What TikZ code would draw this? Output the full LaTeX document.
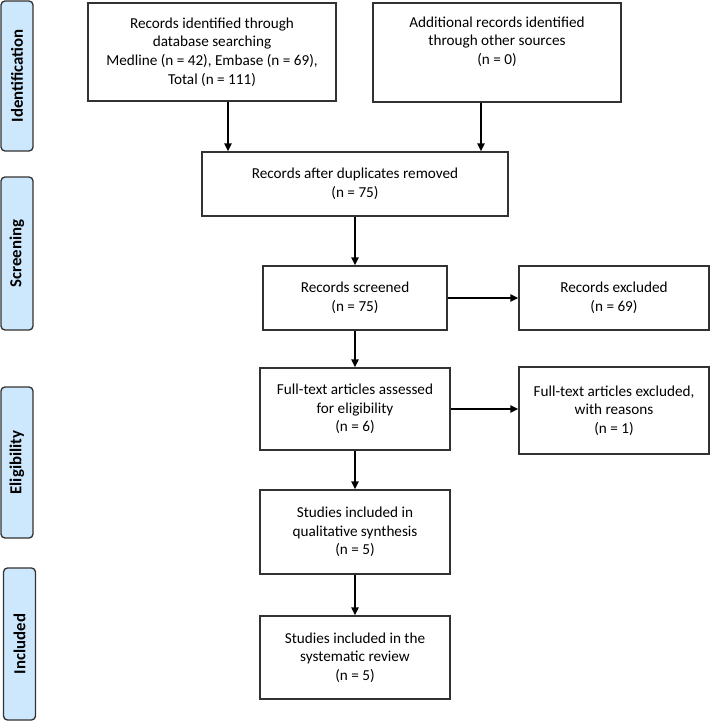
\documentclass[tikz,border=0pt]{standalone}
\usepackage{fontspec}
\setmainfont{Carlito}
\usetikzlibrary{arrows.meta}
\definecolor{phaseblue}{RGB}{205,232,252}
\definecolor{edgegray}{RGB}{50,50,50}
\begin{document}
\begin{tikzpicture}[x=0.75pt,y=-0.75pt,
  box/.style={draw=edgegray,line width=1pt,align=center,inner sep=0pt,
    font=\fontsize{11.4pt}{13.9pt}\selectfont},
  phase/.style={draw=edgegray,line width=1pt,fill=phaseblue,rounded corners=3pt,
    rotate=90,inner sep=0pt,minimum height=24pt,
    font=\fontsize{12.6pt}{14pt}\selectfont\bfseries},
  arr/.style={line width=1.2pt,-{Triangle[length=6pt,width=5.5pt]}}]
\useasboundingbox (0,0) rectangle (710,721);
% phase labels
\node[phase,minimum width=112.5pt] (pid) at (17,76) {Identification};
\node[phase,minimum width=114.75pt] (psc) at (17,253.5) {Screening};
\node[phase,minimum width=113.25pt] (pel) at (17,462.5) {Eligibility};
\node[phase,minimum width=114pt] (pin) at (19.5,644) {Included};
% boxes
\node[box,minimum width=186pt,minimum height=73.5pt] (A) at (212,52)
  {Records identified through\\database searching\\Medline (n = 42), Embase (n = 69),\\Total (n = 111)};
\node[box,minimum width=186pt,minimum height=74.25pt] (B) at (497,52.5)
  {Additional records identified\\through other sources\\(n = 0)\\\strut};
\node[box,minimum width=229.5pt,minimum height=48pt] (C) at (355,184)
  {Records after duplicates removed\\(n = 75)};
\node[box,minimum width=138pt,minimum height=48pt] (D) at (355,298)
  {Records screened\\(n = 75)};
\node[box,minimum width=142.5pt,minimum height=48pt] (E) at (614,298)
  {Records excluded\\(n = 69)};
\node[box,minimum width=142.5pt,minimum height=61.5pt] (F) at (355,409)
  {Full-text articles assessed\\for eligibility\\(n = 6)};
\node[box,minimum width=142.5pt,minimum height=65.25pt] (G) at (614,410.5)
  {Full-text articles excluded,\\with reasons\\(n = 1)};
\node[box,minimum width=142.5pt,minimum height=63pt] (H) at (355,532)
  {Studies included in\\qualitative synthesis\\(n = 5)};
\node[box,minimum width=142.5pt,minimum height=62.25pt] (I) at (355,657.5)
  {Studies included in the\\systematic review\\(n = 5)};
% connectors
\draw[arr] ([xshift=12pt]A.south) -- ([xshift=12pt]A.south |- C.north);
\draw[arr] ([xshift=-12pt]B.south) -- ([xshift=-12pt]B.south |- C.north);
\draw[arr] (C) -- (D);
\draw[arr] (D) -- (E);
\draw[arr] (D) -- (F);
\draw[arr] (F.east) -- (F.east -| G.west);
\draw[arr] (F) -- (H);
\draw[arr] (H) -- (I);
\end{tikzpicture}
\end{document}
